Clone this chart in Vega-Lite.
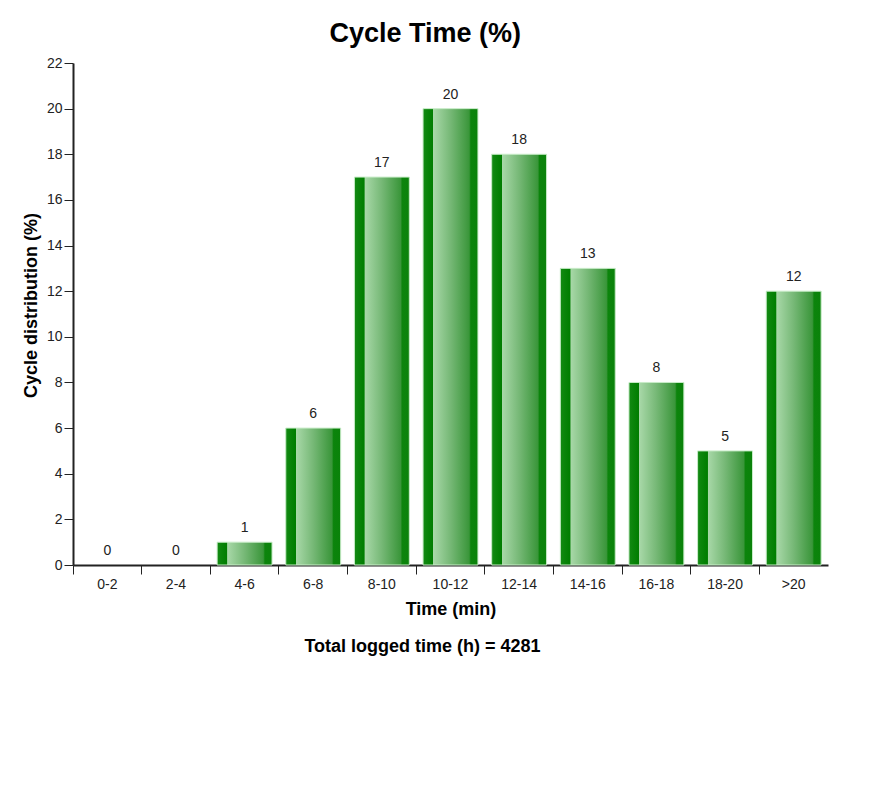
{
  "$schema": "https://vega.github.io/schema/vega-lite/v6.json",
  "width": 755,
  "height": 502,
  "autosize": "none",
  "padding": {"left": 73, "top": 63, "right": 60, "bottom": 225},
  "background": "white",
  "title": {
    "text": "Cycle Time (%)",
    "font": "Liberation Sans",
    "fontSize": 27,
    "fontWeight": "bold",
    "color": "#000",
    "anchor": "middle",
    "frame": "bounds",
    "offset": 8
  },
  "config": {
    "view": {"stroke": null},
    "font": "Liberation Sans",
    "axis": {
      "labelFont": "Liberation Sans",
      "titleFont": "Liberation Sans",
      "labelFontSize": 14,
      "labelColor": "#222",
      "titleFontSize": 18,
      "titleFontWeight": "bold",
      "titleColor": "#000",
      "domainColor": "#222",
      "domainWidth": 2,
      "tickColor": "#222",
      "tickWidth": 1,
      "tickSize": 9,
      "grid": false
    }
  },
  "data": {
    "values": [
      {"bin": "0-2", "pct": 0},
      {"bin": "2-4", "pct": 0},
      {"bin": "4-6", "pct": 1},
      {"bin": "6-8", "pct": 6},
      {"bin": "8-10", "pct": 17},
      {"bin": "10-12", "pct": 20},
      {"bin": "12-14", "pct": 18},
      {"bin": "14-16", "pct": 13},
      {"bin": "16-18", "pct": 8},
      {"bin": "18-20", "pct": 5},
      {"bin": ">20", "pct": 12}
    ]
  },
  "resolve": {"axis": {"x": "independent"}},
  "layer": [
    {
      "transform": [{"filter": "datum.pct > 0"}],
      "mark": {
        "type": "bar",
        "width": {"band": 0.8},
        "stroke": "#c8ecc8",
        "strokeWidth": 1,
        "color": {
          "gradient": "linear",
          "x1": 0, "y1": 0, "x2": 1, "y2": 0,
          "stops": [
            {"offset": 0, "color": "#148a14"},
            {"offset": 0.08, "color": "#0a840a"},
            {"offset": 0.18, "color": "#007d00"},
            {"offset": 0.19, "color": "#a8d8a8"},
            {"offset": 0.5, "color": "#76b876"},
            {"offset": 0.84, "color": "#3a963a"},
            {"offset": 0.87, "color": "#0c840c"},
            {"offset": 1, "color": "#0a820a"}
          ]
        }
      },
      "encoding": {
        "x": {
          "field": "bin",
          "type": "nominal",
          "sort": ["0-2", "2-4", "4-6", "6-8", "8-10", "10-12", "12-14", "14-16", "16-18", "18-20", ">20"],
          "scale": {"domain": ["0-2", "2-4", "4-6", "6-8", "8-10", "10-12", "12-14", "14-16", "16-18", "18-20", ">20"], "paddingInner": 0, "paddingOuter": 0},
          "axis": {
            "title": "Time (min)",
            "labelAngle": 0,
            "labelFontSize": 14,
            "labelColor": "#222",
            "bandPosition": 0,
            "labelPadding": 3,
            "titlePadding": 9
          }
        },
        "y": {
          "field": "pct",
          "type": "quantitative",
          "scale": {"domain": [0, 22], "nice": false},
          "axis": {
            "title": "Cycle distribution (%)",
            "labelFontSize": 14,
            "labelColor": "#222",
            "values": [0, 2, 4, 6, 8, 10, 12, 14, 16, 18, 20, 22],
            "labelPadding": 2,
            "titlePadding": 6,
            "titleY": 242
          }
        }
      }
    },
    {
      "mark": {
        "type": "text",
        "baseline": "bottom",
        "dy": -7,
        "fontSize": 14,
        "color": "#222",
        "font": "Liberation Sans"
      },
      "encoding": {
        "x": {
          "field": "bin",
          "type": "nominal",
          "sort": null,
          "axis": {
            "orient": "bottom",
            "title": "Total logged time (h) = 4281",
            "labels": false,
            "ticks": false,
            "domain": false,
            "titleY": 72,
            "titleX": 349
          }
        },
        "y": {"field": "pct", "type": "quantitative"},
        "text": {"field": "pct", "type": "quantitative"}
      }
    }
  ]
}
